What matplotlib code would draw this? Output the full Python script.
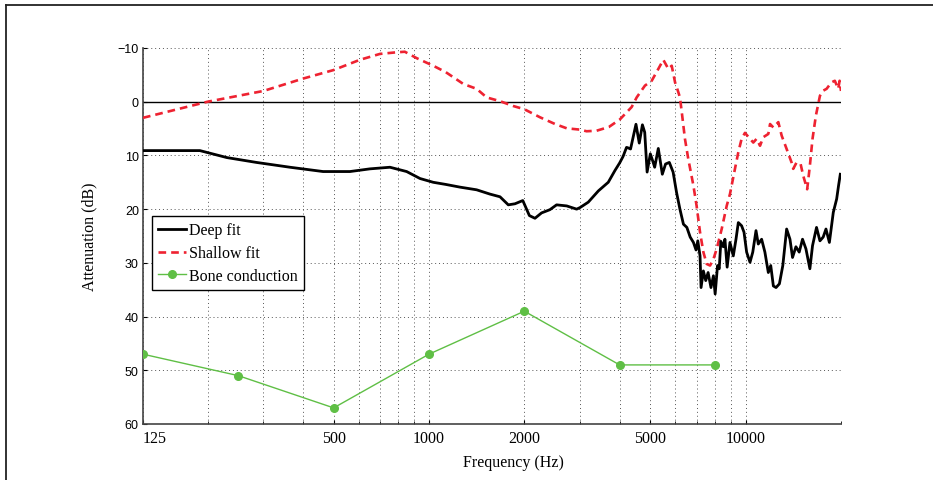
"""
Earplug attenuation: deep vs shallow fit, with bone conduction limit
"""

import matplotlib
matplotlib.use("Agg")
import matplotlib.pyplot as plt
import matplotlib.transforms as mtransforms
from matplotlib.lines import Line2D
from matplotlib.ticker import FixedLocator, NullFormatter

# ── data ──────────────────────────────────────────────────────
DEEP_F = [125, 189, 230, 285, 364, 463, 563, 651, 753, 850, 937, 1031, 1130,
          1252, 1414, 1558, 1676, 1780, 1869, 1978, 2075, 2161, 2267, 2409,
          2529, 2722, 2926, 3000, 3184, 3427, 3682, 3866, 4000, 4100, 4205,
          4256, 4330, 4504, 4613, 4720, 4800, 4884, 5000, 5105, 5160, 5298,
          5455, 5585, 5740, 5900, 6050, 6200, 6360, 6520, 6680, 6840, 6970,
          7060, 7176, 7230, 7353, 7480, 7610, 7770, 7910, 8010, 8150, 8250,
          8350, 8500, 8600, 8740, 8920, 9140, 9320, 9480, 9710, 9880, 10070,
          10320, 10530, 10780, 10960, 11230, 11500, 11790, 12000, 12230,
          12470, 12780, 13100, 13470, 13800, 14060, 14410, 14760, 15120,
          15500, 15950, 16260, 16740, 17160, 17570, 17930, 18380, 18910,
          19380, 19650, 19900]
DEEP_DB = [9.1, 9.1, 10.4, 11.3, 12.2, 13.0, 13.0, 12.5, 12.2, 13.0, 14.3, 15.0,
           15.4, 15.9, 16.4, 17.2, 17.7, 19.2, 19.0, 18.4, 21.2, 21.7, 20.7,
           20.1, 19.2, 19.4, 20.0, 19.7, 18.7, 16.6, 15.0, 12.8, 11.4, 10.2,
           8.5, 8.6, 8.8, 4.2, 7.7, 4.3, 5.7, 13.1, 9.7, 11.3, 12.2, 8.7, 13.5,
           11.6, 11.3, 13.1, 16.9, 20.0, 22.8, 23.4, 25.2, 26.2, 27.6, 25.9,
           28.7, 34.6, 31.5, 33.3, 31.8, 34.6, 32.4, 35.8, 30.5, 31.1, 26.0,
           27.0, 25.6, 30.8, 26.2, 28.7, 25.6, 22.5, 23.1, 24.3, 28.0, 29.9,
           28.0, 24.0, 26.5, 25.6, 28.0, 31.8, 30.5, 34.3, 34.6, 33.9, 30.5,
           23.7, 25.6, 29.0, 27.0, 28.0, 25.6, 27.4, 31.1, 26.8, 23.4, 25.9,
           25.2, 23.7, 26.2, 20.6, 18.1, 15.6, 13.5]

SHALLOW_F = [125, 200, 300, 400, 500, 605, 700, 790, 839, 915, 1031, 1130,
             1284, 1414, 1521, 1676, 1845, 2000, 2242, 2500, 2722, 3000, 3145,
             3384, 3700, 4006, 4364, 4527, 4808, 5050, 5298, 5495, 5700, 5840,
             5985, 6130, 6200, 6277, 6430, 6590, 6838, 7000, 7176, 7353, 7530,
             7720, 7910, 8100, 8400, 8710, 8920, 9250, 9480, 9710, 9950, 10320,
             10570, 10830, 11100, 11370, 11790, 11940, 12230, 12680, 12990,
             13470, 13960, 14130, 14480, 14910, 15200, 15640, 15950, 16260,
             16660, 17160, 17570, 18010, 18660, 19120, 19600, 19800, 20000]
SHALLOW_DB = [3.0, 0.0, -2.0, -4.3, -5.9, -7.8, -8.9, -9.2, -9.3, -8.1, -6.7,
              -5.5, -3.3, -2.4, -0.8, -0.1, 0.8, 1.4, 2.9, 4.15, 4.95, 5.2, 5.5,
              5.4, 4.7, 3.3, 1.0, -0.8, -3.0, -3.9, -6.1, -7.8, -6.1, -6.7, -3.6,
              -1.75, -0.8, 1.7, 6.9, 10.7, 15.6, 19.4, 24.3, 28.0, 30.2, 30.5,
              29.3, 27.4, 23.7, 19.4, 17.2, 12.5, 9.4, 6.9, 5.8, 6.9, 7.6, 6.9,
              8.2, 6.6, 6.0, 4.15, 4.8, 3.8, 6.3, 8.8, 11.3, 12.5, 11.3, 11.6,
              13.8, 16.3, 11.9, 6.9, 2.6, -1.1, -2.05, -2.4, -3.6, -3.9, -2.4,
              -3.9, -2.0]

BONE_F = [125, 250, 500, 1000, 2000, 4000, 8000]
BONE_DB = [47, 51, 57, 47, 39, 49, 49]

X_TICKS = [125, 500, 1000, 2000, 5000, 10000]
Y_TICKS = [-10, 0, 10, 20, 30, 40, 50, 60]

CLR_DEEP = "black"
CLR_SHALLOW = "#ee2231"
CLR_BONE = "#5fbf45"

SERIF = ["Liberation Serif", "DejaVu Serif"]
SANS = ["Liberation Sans", "DejaVu Sans"]

fig = plt.figure(figsize=(9.33, 4.81), dpi=100)
ax = fig.add_axes([143 / 933, 1 - 425 / 481, 698 / 933, 376 / 481])

# frame lines (top + left) around the figure
fig.add_artist(Line2D([6 / 933, 1], [1 - 6 / 481] * 2, transform=fig.transFigure,
                      color="#222222", lw=1.3))
fig.add_artist(Line2D([6 / 933] * 2, [0, 1 - 6 / 481], transform=fig.transFigure,
                      color="#222222", lw=1.3))

ax.axhline(0, color="black", lw=1.0, zorder=2)
ax.plot(DEEP_F, DEEP_DB, color=CLR_DEEP, lw=2.0, label="Deep fit", zorder=4)
ax.plot(SHALLOW_F, SHALLOW_DB, color=CLR_SHALLOW, lw=1.9, ls=(0, (2.9, 1.9)),
        label="Shallow fit", zorder=3)
ax.plot(BONE_F, BONE_DB, color=CLR_BONE, lw=1.0, marker="o", ms=5.5,
        label="Bone conduction", zorder=3)

ax.set_xscale("log")
ax.set_xlim(125, 20000)
ax.set_ylim(60, -10)

minor = [m * 10 ** e for e in (2, 3, 4) for m in range(2, 10) if 125 < m * 10 ** e <= 20000]
ax.xaxis.set_major_locator(FixedLocator(X_TICKS))
ax.xaxis.set_minor_locator(FixedLocator(minor))
ax.xaxis.set_minor_formatter(NullFormatter())
ax.set_xticklabels([str(t) for t in X_TICKS], fontfamily=SERIF, fontsize=11.5)
ax.set_yticks(Y_TICKS)
ax.set_yticklabels([f"\u221210" if t < 0 else str(t) for t in Y_TICKS],
                   fontfamily=SANS, fontsize=9)

# first x label hugs the axis start
lbl = ax.get_xticklabels()[0]
lbl.set_horizontalalignment("left")
lbl.set_transform(lbl.get_transform() +
                  mtransforms.ScaledTranslation(-3 / 100, 0, fig.dpi_scale_trans))

ax.grid(True, which="both", axis="x", color="#555555", ls=(0, (1, 3)), lw=0.7)
ax.grid(True, which="major", axis="y", color="#555555", ls=(0, (1, 3)), lw=0.7)
ax.tick_params(which="major", direction="in", length=3, width=0.8, pad=4)
ax.tick_params(which="minor", direction="in", length=2, width=0.6)
ax.tick_params(axis="y", pad=3)

for s in ("top", "right"):
    ax.spines[s].set_visible(False)
for s in ("left", "bottom"):
    ax.spines[s].set_color("#444444")
    ax.spines[s].set_linewidth(1.2)

ax.set_xlabel("Frequency (Hz)", fontfamily=SERIF, fontsize=11.5)
ax.set_ylabel("Attenuation (dB)", fontfamily=SERIF, fontsize=11.5)
ax.xaxis.set_label_coords(0.53, -0.08)
ax.yaxis.set_label_coords(-0.066, 0.5)

leg = ax.legend(loc="upper left", bbox_to_anchor=(0.013, 0.553), borderaxespad=0,
                prop={"family": SERIF, "size": 11.5}, fancybox=False,
                edgecolor="black", framealpha=1, handlelength=1.7,
                handletextpad=0.2, borderpad=0.4, labelspacing=0.42)
leg.get_frame().set_linewidth(1.0)

fig.savefig("out.png", dpi=100)
print("[saved] out.png")
